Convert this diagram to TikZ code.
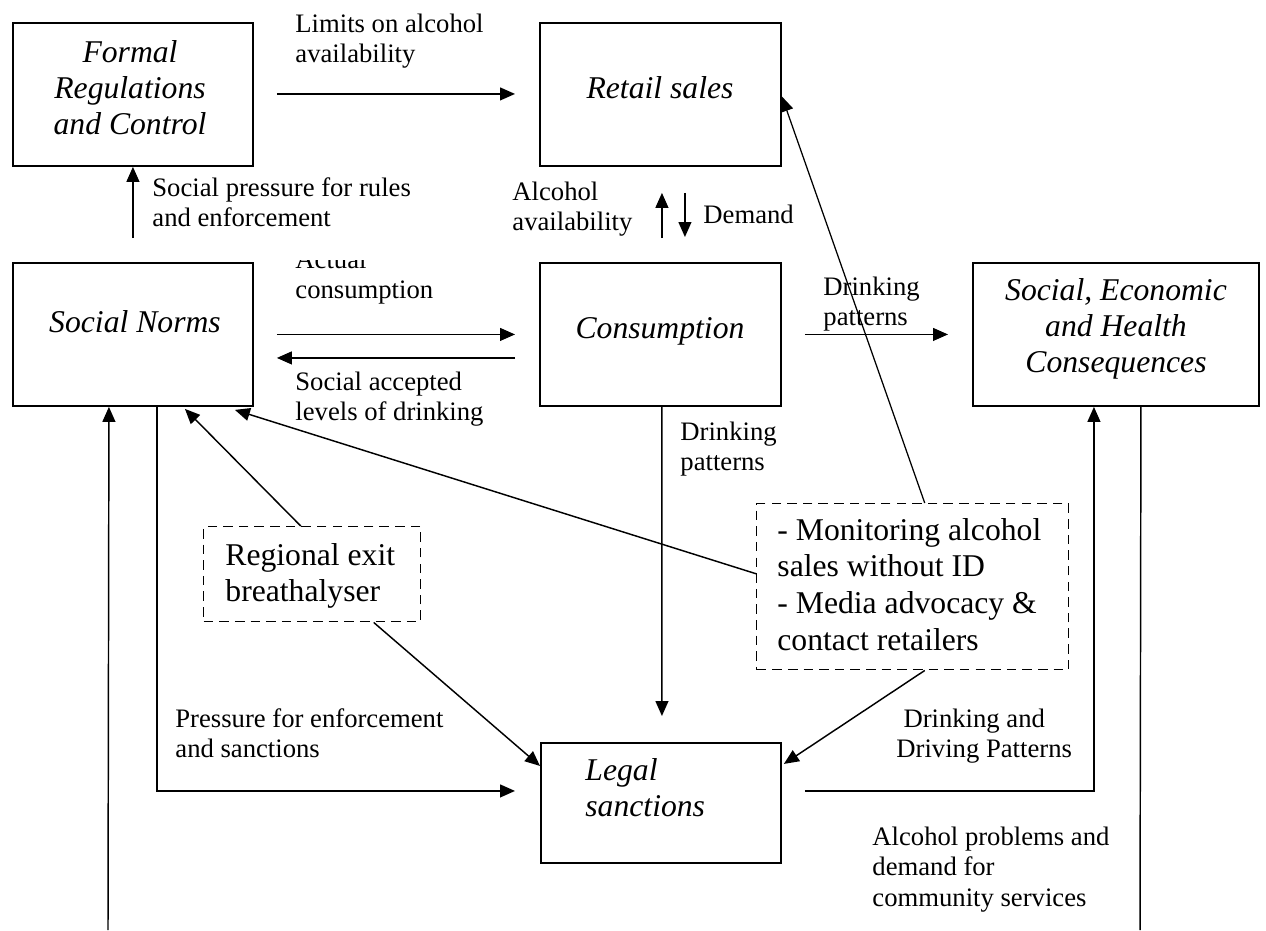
\documentclass[tikz,border=0pt]{standalone}
\usepackage{fontspec}
\setmainfont{Liberation Serif}
\usetikzlibrary{arrows.meta,calc}
\newcommand\myclines[1]{\begin{tabular}[t]{@{}c@{}}#1\end{tabular}}
\newcommand\myllines[1]{\begin{tabular}[t]{@{}l@{}}#1\end{tabular}}
\begin{document}
\begin{tikzpicture}[x=0.48pt,y=-0.48pt,
  box/.style={draw, line width=0.9pt, inner sep=0pt, anchor=north west},
  dbox/.style={draw, line width=0.7pt, dash pattern=on 4.6pt off 2.9pt, inner sep=0pt, anchor=north west},
  btxt/.style={font=\fontsize{15.2}{17.5}\selectfont\itshape, inner sep=0pt, anchor=base},
  dtxt/.style={font=\fontsize{15.2}{17.6}\selectfont, inner sep=0pt, anchor=base west},
  lbl/.style={font=\fontsize{12.8}{14.7}\selectfont, inner sep=0pt, anchor=base west},
  arr/.style={line width=0.7pt, -{Triangle[length=7.2pt,width=6.2pt]}},
  ln/.style={line width=0.7pt}]
\useasboundingbox (0,0) rectangle (1266,930);

% boxes
\node[box, minimum width=240*0.48pt, minimum height=143*0.48pt] (fr) at (12,22) {};
\node[box, minimum width=241*0.48pt, minimum height=143*0.48pt] (rs) at (539,22) {};
\node[box, minimum width=240*0.48pt, minimum height=143*0.48pt] (sn) at (12,262) {};
\node[box, minimum width=241*0.48pt, minimum height=143*0.48pt] (cn) at (539,262) {};
\node[box, minimum width=286*0.48pt, minimum height=143*0.48pt] (seh) at (972,262) {};
\node[box, minimum width=240*0.48pt, minimum height=120*0.48pt] (ls) at (540,742) {};
\node[dbox, minimum width=217*0.48pt, minimum height=95*0.48pt] (reg) at (203,526) {};
\node[dbox, minimum width=312*0.48pt, minimum height=166*0.48pt] (mon) at (756,503) {};

% box texts
\node[btxt] (fr-t) at (130,62) {\myclines{Formal\\Regulations\\and Control}};
\node[btxt] (rs-t) at (660,98) {Retail sales};
\node[btxt] (sn-t) at (135,332) {Social Norms};
\node[btxt] (cn-t) at (660,338) {Consumption};
\node[btxt] (seh-t) at (1116,300) {\myclines{Social, Economic\\and Health\\Consequences}};
\node[btxt, anchor=base west] (ls-t) at (585,780) {\myllines{Legal\\sanctions}};
\node[dtxt] (reg-t) at (225,565) {\myllines{Regional exit\\breathalyser}};
\node[dtxt] (mon-t) at (777,540) {\myllines{- Monitoring alcohol\\sales without ID\\- Media advocacy \&\\contact retailers}};

% labels
\node[lbl] (l-lim) at (295,32) {\myllines{Limits on alcohol\\availability}};
\node[lbl] (l-spr) at (152,196) {\myllines{Social pressure for rules\\and enforcement}};
\node[lbl] (l-aav) at (512,200) {\myllines{Alcohol\\availability}};
\node[lbl] (l-dem) at (703,223) {Demand};
\begin{scope}
\clip (280,260) rectangle (530,320);
\node[lbl] (l-act) at (295,268) {\myllines{Actual\\consumption}};
\end{scope}
\node[lbl] (l-sal) at (295,390) {\myllines{Social accepted\\levels of drinking}};
\node[lbl] (l-dp1) at (823,295) {\myllines{Drinking\\patterns}};
\node[lbl] (l-dp2) at (680,440) {\myllines{Drinking\\patterns}};
\node[lbl] (l-pfe) at (175,727) {\myllines{Pressure for enforcement\\and sanctions}};
\node[lbl] (l-dad) at (896,727) {\myllines{\hspace*{3.4pt}Drinking and\\Driving Patterns}};
\node[lbl] (l-apd) at (872,845) {\myllines{Alcohol problems and\\demand for\\community services}};

% free ends
\coordinate (lb) at (108,930);
\coordinate (rb) at (1140,930);

% connectors
\draw[arr] ($(fr.east)+(23,-0.5)$) -- ($(rs.west)+(-24,-0.5)$);
\draw[arr] ($(sn.north)+(0,-24)$) -- (fr.south);
\draw[arr] ($(cn.north)+(1.5,-24)$) -- ($(rs.south)+(1.5,26)$);
\draw[arr] ($(rs.south)+(24.5,26)$) -- ($(cn.north)+(24.5,-25)$);
\draw[arr] ($(sn.east)+(23,0)$) -- ($(cn.west)+(-24,0)$);
\draw[arr] ($(cn.west)+(-24,23.5)$) -- ($(sn.east)+(23,23.5)$);
\draw[arr] ($(cn.east)+(23,0)$) -- ($(seh.west)+(-24,0)$);
\draw[arr] ($(cn.south)+(1.5,0)$) -- ($(ls.north)+(1,-26)$);
\draw[arr] ($(sn.south)+(24,0)$) |- ($(ls.west)+(-25,-12)$);
\draw[arr] (lb) -- ($(sn.south)+(-24,0)$);
\draw[ln] ($(seh.south)+(25,0)$) -- (rb);
\draw[arr] ($(ls.east)+(23,-12)$) -| ($(seh.south)+(-22,0)$);
\draw[arr] ($(reg.north)+(-11.5,0)$) -- ($(sn.south)+(52,2)$);
\draw[arr] ($(mon.west)+(0,-13)$) -- ($(sn.south east)+(-19,3)$);
\draw[arr, line width=0.6pt] ($(mon.north)+(12,0)$) -- ($(rs.east)+(0,2)$);
\draw[arr] ($(reg.south)+(61.5,0)$) -- ($(ls.west)+(0,-37)$);
\draw[arr] ($(mon.south)+(12,0)$) -- ($(ls.east)+(2,-39)$);
\end{tikzpicture}
\end{document}
